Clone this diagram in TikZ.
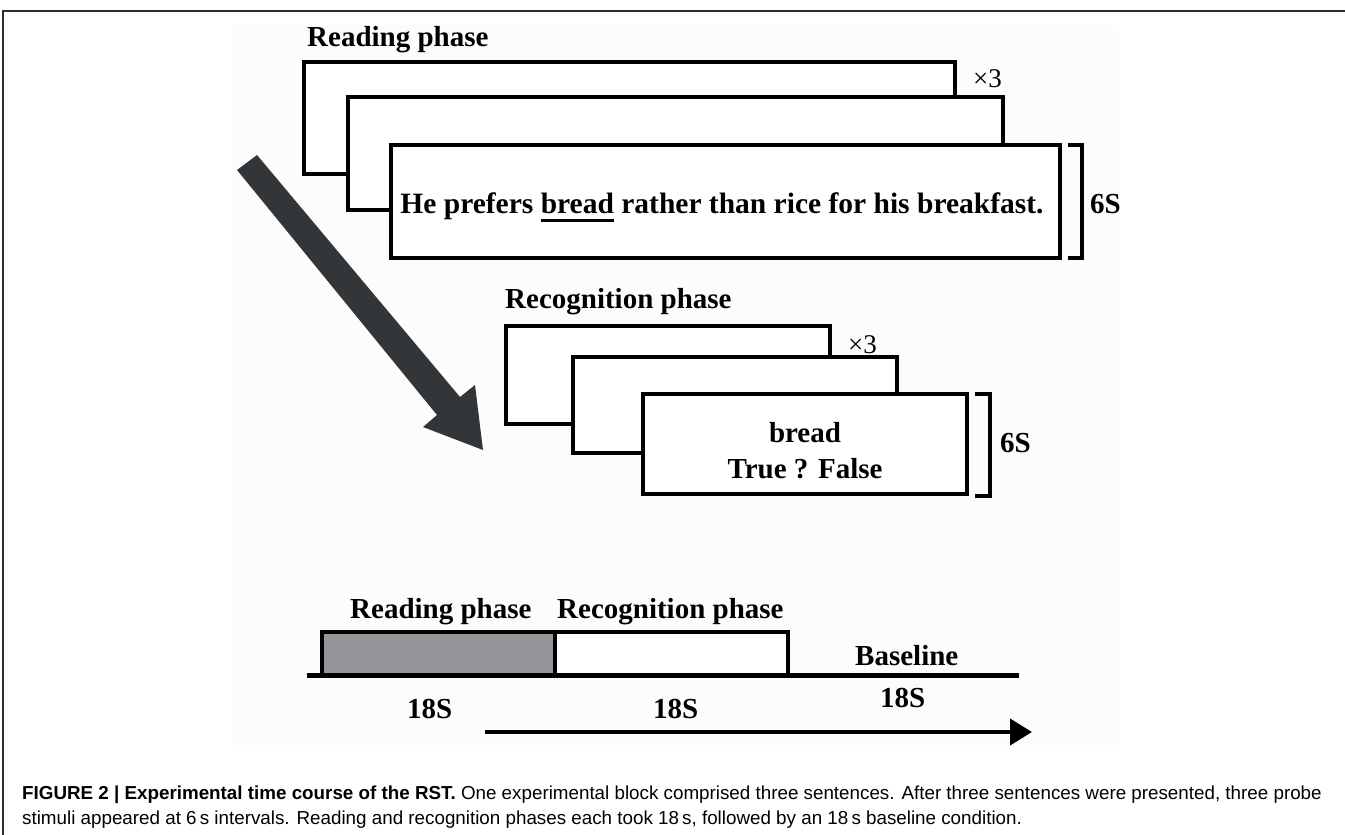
\documentclass[tikz,border=0pt]{standalone}
\usepackage{fontspec}
\setmainfont{Liberation Serif}
\newfontfamily\capfont{Liberation Sans}
\usetikzlibrary{arrows.meta}

\definecolor{bgcream}{RGB}{253,252,250}
\definecolor{arrowgray}{RGB}{51,54,57}
\definecolor{phasegray}{RGB}{147,149,152}
\definecolor{framegray}{RGB}{45,45,45}

% underlined word with a fixed rule
\newcommand{\ulword}[1]{\setbox0\hbox{#1}\rlap{\rule[-8.5pt]{\wd0}{3pt}}\box0\relax}

\tikzset{
	stimbox/.style={draw, fill=white, line width=4pt},
	bracket/.style={line width=4pt},
	lbl/.style={font=\fontsize{29}{34}\selectfont\bfseries, inner sep=0pt},
	times/.style={font=\fontsize{27}{30}\selectfont, inner sep=0pt, anchor=base west},
	capt/.style={font=\capfont\fontsize{18.8}{25}\selectfont, inner sep=0pt, anchor=base west}
}

\begin{document}
\begin{tikzpicture}[x=1pt, y=-1pt]
	\useasboundingbox (0,0) rectangle (1345,835);
	
	% Draw frame and figure background
	\draw[framegray, line width=1.5pt] (3,835) -- (3,11) -- (1345,11);
	\fill[bgcream] (232,25) rectangle (1119,745);
	
	% Draw reading phase screens
	\node[lbl, anchor=base west] (readTitle) at (307,46) {Reading phase};
	\foreach \xa/\ya/\xb/\yb in {304/62/955/174, 348/97/1003/210, 391/145/1060/258}
	\draw[stimbox] (\xa,\ya) rectangle (\xb,\yb);
	\node[times] (readTimes) at (973,87) {×3};
	\node[lbl, anchor=base, font=\fontsize{29.5}{34}\selectfont\bfseries] (sentence) at (722,213) {He prefers \ulword{bread} rather than rice for his breakfast.};
	\draw[bracket] (1068,145) -- (1082,145) -- (1082,258) -- (1068,258);
	\node[lbl, anchor=base west] (readDur) at (1090,213) {6S};
	
	% Draw big arrow
	\fill[arrowgray] (237,170) -- (257,155) -- (460,397) -- (475,385)
	-- (483,450) -- (423,427) -- (437,415) -- cycle;
	
	% Draw recognition phase screens
	\node[lbl, anchor=base west] (recTitle) at (505,308) {Recognition phase};
	\foreach \xa/\ya/\xb/\yb in {506/326/830/424, 573/357/897/453, 643/394/967/494}
	\draw[stimbox] (\xa,\ya) rectangle (\xb,\yb);
	\node[times] (recTimes) at (848,353) {×3};
	\node[lbl, anchor=base] (probe) at (805,442) {bread};
	\node[lbl, anchor=base] (choice) at (805,478) {True ? False};
	\draw[bracket] (975,394) -- (990,394) -- (990,496) -- (975,496);
	\node[lbl, anchor=base west] (recDur) at (1000,452) {6S};
	
	% Draw time course
	\draw[line width=4pt, fill=phasegray] (322,675) -- (322,632) -- (555,632) -- (555,675);
	\draw[line width=4pt, fill=white] (555,675) -- (555,632) -- (788,632) -- (788,675);
	\draw[line width=5pt] (307,675) -- (1019,675);
	\node[lbl, anchor=base west] (tlRead) at (350,618) {Reading phase};
	\node[lbl, anchor=base west] (tlRec) at (557,618) {Recognition phase};
	\node[lbl, anchor=base west] (tlBase) at (855,665) {Baseline};
	\foreach \x/\y/\nm in {407/718/durA, 653/718/durB, 880/707/durC}
	\node[lbl, anchor=base west] (\nm) at (\x,\y) {18S};
	\coordinate (tStart) at (485,732);
	\coordinate (tEnd) at (1032,732);
	\draw[line width=4pt, -{Triangle[length=22pt, width=26pt]}] (tStart) -- (tEnd);
	
	% Caption
	\node[capt] (capA) at (22,799) {\textbf{FIGURE 2 | Experimental time course of the RST.} One experimental block comprised three sentences. After three sentences were presented, three probe};
	\node[capt] (capB) at (22,824) {stimuli appeared at 6\,s intervals. Reading and recognition phases each took 18\,s, followed by an 18\,s baseline condition.};
\end{tikzpicture}
\end{document}
